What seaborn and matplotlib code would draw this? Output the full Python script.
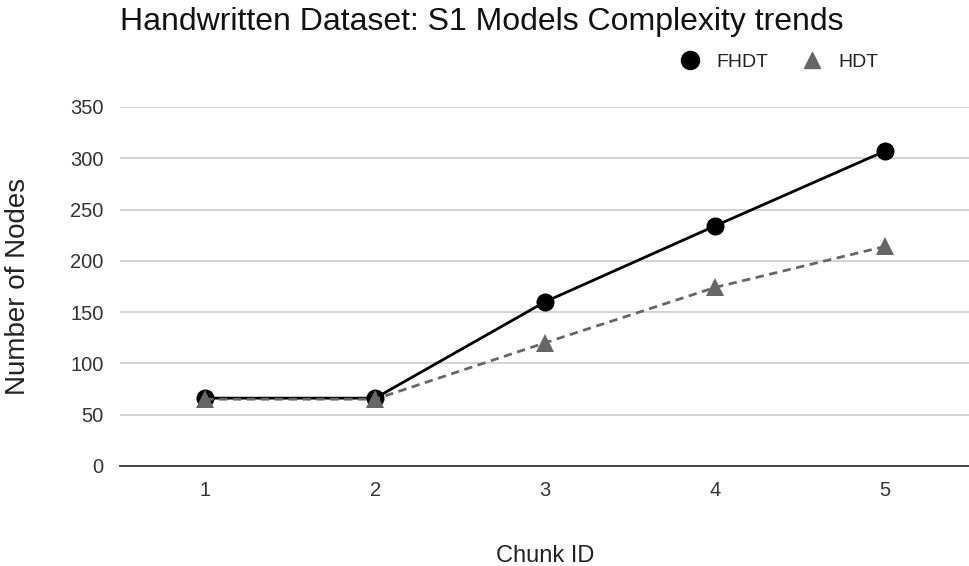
import pandas as pd
import matplotlib.pyplot as plt
import seaborn as sns
from matplotlib.lines import Line2D

# Dados
chunks = [1, 2, 3, 4, 5]
fhdt = [66, 66, 160, 234, 307]
hdt = [65, 65, 120, 174, 214]
series_names = ['FHDT', 'HDT']

df = pd.DataFrame({
    'Chunk ID': chunks * 2,
    'Nodes': fhdt + hdt,
    'Model': [series_names[0]] * len(chunks) + [series_names[1]] * len(chunks),
})

sns.set_style('white')
plt.rcParams['font.family'] = ['Liberation Sans', 'DejaVu Sans']

fig = plt.figure(figsize=(9.7, 5.66), dpi=100)
ax = fig.add_axes([0.124, 0.177, 0.876, 0.634])

cores = {'FHDT': '#000000', 'HDT': '#666666'}
sns.lineplot(data=df, x='Chunk ID', y='Nodes', hue='Model', style='Model',
             palette=cores, markers={'FHDT': 'o', 'HDT': '^'},
             dashes={'FHDT': '', 'HDT': (3, 2)}, linewidth=2.0,
             markersize=13, markeredgewidth=0, legend=False, ax=ax, zorder=3)

ax.set_xlim(0.5, 5.5)
ax.set_ylim(0, 350)
ax.set_xticks(chunks)
ax.set_yticks(range(0, 351, 50))
ax.grid(axis='y', color='#cccccc', linewidth=1.2)
ax.set_axisbelow(True)
for s in ['top', 'right', 'left']:
    ax.spines[s].set_visible(False)
ax.spines['bottom'].set_color('#333333')
ax.spines['bottom'].set_linewidth(1.3)
ax.tick_params(axis='x', length=0, labelsize=14.5, colors='#333333', pad=11)
ax.tick_params(axis='y', length=5, width=1.2, color='#cccccc',
               labelsize=14.5, labelcolor='#333333', pad=7)

ax.set_xlabel('Chunk ID', fontsize=17, color='#222222', labelpad=32)
ax.set_ylabel('Number of Nodes', fontsize=20, color='#222222', labelpad=28)

fig.text(0.124, 0.962, 'Handwritten Dataset: S1 Models Complexity trends',
         fontsize=23, color='#111111', va='center', ha='left')

handles = [
    Line2D([], [], marker='o', color='#000000', linestyle='', markersize=13),
    Line2D([], [], marker='^', color='#666666', linestyle='', markersize=11),
]
ax.legend(handles, series_names, loc='center', bbox_to_anchor=(0.77, 1.125),
          ncol=2, frameon=False, fontsize=14, handletextpad=0.4,
          columnspacing=1.2, labelcolor='#222222')

plt.savefig('out.png', dpi=100)
